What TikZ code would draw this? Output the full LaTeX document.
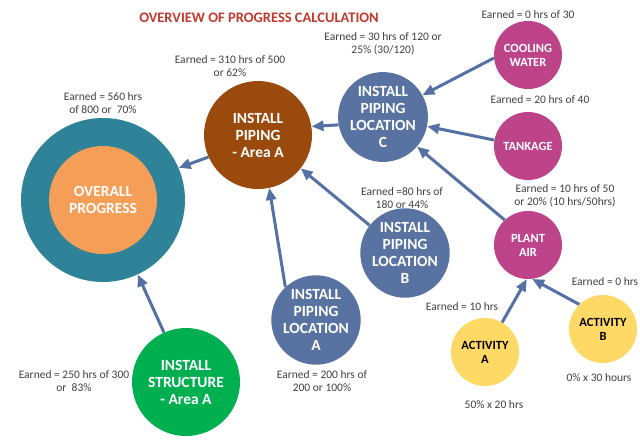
\documentclass[tikz,border=0pt]{standalone}
\usepackage{fontspec}
\setmainfont{Carlito}
\usetikzlibrary{arrows.meta}
\definecolor{ringteal}{RGB}{46,131,152}
\definecolor{coreorange}{RGB}{245,158,88}
\definecolor{pipebrown}{RGB}{154,74,12}
\definecolor{locblue}{RGB}{88,115,162}
\definecolor{sysmagenta}{RGB}{190,68,137}
\definecolor{structgreen}{RGB}{0,176,80}
\definecolor{actyellow}{RGB}{255,217,102}
\definecolor{feedblue}{RGB}{84,112,164}
\definecolor{notegray}{RGB}{64,64,64}
\definecolor{titlered}{RGB}{192,57,43}
\tikzset{
  bubble/.style={circle,inner sep=0pt,align=center,text=white,font=\bfseries\fontsize{15.5}{17}\selectfont},
  smallbubble/.style={bubble,font=\bfseries\fontsize{12.5}{14}\selectfont},
  note/.style={align=center,text=notegray,font=\fontsize{11.5}{13.5}\selectfont},
  feed/.style={-{Triangle[length=12pt,width=10pt]},line width=3pt,draw=feedblue}
}
\begin{document}
\begin{tikzpicture}[x=1pt,y=-1pt]
      \useasboundingbox (0,0) rectangle (640,440);
      \node[text=titlered,font=\bfseries\fontsize{14.5}{16}\selectfont] (title) at (259,18) {OVERVIEW OF PROGRESS CALCULATION};

      \node[circle,fill=ringteal,minimum size=164pt] (outer) at (103,200) {};
      \node[bubble,fill=coreorange,minimum size=108pt] (overall) at (103,200) {OVERALL\\PROGRESS};
      \node[bubble,fill=pipebrown,minimum size=108pt] (areaA) at (258,135) {INSTALL\\PIPING\\- Area A};
      \node[bubble,fill=locblue,minimum size=86pt] (locC) at (383,117) {INSTALL\\PIPING\\LOCATION\\C};
      \node[bubble,fill=locblue,minimum size=86pt] (locB) at (405,253) {INSTALL\\PIPING\\LOCATION\\B};
      \node[bubble,fill=locblue,minimum size=86pt] (locA) at (316,320) {INSTALL\\PIPING\\LOCATION\\A};
      \node[bubble,fill=structgreen,minimum size=108pt] (struct) at (186,382) {INSTALL\\STRUCTURE\\- Area A};
      \node[smallbubble,fill=sysmagenta,minimum size=68pt] (cool) at (528,55) {COOLING\\WATER};
      \node[smallbubble,fill=sysmagenta,minimum size=68pt] (tank) at (528,146) {TANKAGE};
      \node[smallbubble,fill=sysmagenta,minimum size=68pt] (plant) at (528,245) {PLANT\\AIR};
      \node[smallbubble,fill=actyellow,text=black,minimum size=68pt] (actA) at (485,352) {ACTIVITY\\A};
      \node[smallbubble,fill=actyellow,text=black,minimum size=68pt] (actB) at (603,329) {ACTIVITY\\B};

      \node[note] (overallNote) at (103,103) {Earned = 560 hrs\\of 800 or~~70\%};
      \node[note] (areaANote) at (230,66) {Earned = 310 hrs of 500\\or 62\%};
      \node[note] (locCNote) at (383,44) {Earned = 30 hrs of 120 or\\25\% (30/120)};
      \node[note] (coolNote) at (528,15) {Earned = 0 hrs of 30};
      \node[note] (tankNote) at (540,100) {Earned = 20 hrs of 40};
      \node[note] (locBNote) at (402,198) {Earned =80 hrs of\\180 or 44\%};
      \node[note] (plantNote) at (565,196) {Earned = 10 hrs of 50\\or 20\% (10 hrs/50hrs)};
      \node[note] (actBEarned) at (605,282) {Earned = 0 hrs};
      \node[note] (actAEarned) at (462,307) {Earned = 10 hrs};
      \node[note] (actBNote) at (599,378) {0\% x 30 hours};
      \node[note] (actANote) at (494,405) {50\% x 20 hrs};
      \node[note] (locANote) at (322,381) {Earned = 200 hrs of\\200 or 100\%};
      \node[note] (structNote) at (74,381) {Earned = 250 hrs of 300\\or~~83\%};

      \draw[feed] (areaA.204) -- (outer.23);
      \draw[feed] (struct.114) -- (outer.-65);
      \draw[feed] (locC.190) -- (areaA.9);
      \draw[feed] (locB.142) -- (areaA.-38);
      \draw[feed] (locA.133) -- (areaA.-78);
      \draw[feed] (cool.185) -- (locC.29);
      \draw[feed] (tank.170) -- (locC.-12);
      \draw[feed] (plant.133) -- (locC.-41);
      \draw[feed] (actA.60) -- (plant.-92);
      \draw[feed] (actB.134) -- (plant.-83);
    \end{tikzpicture}
\end{document}
